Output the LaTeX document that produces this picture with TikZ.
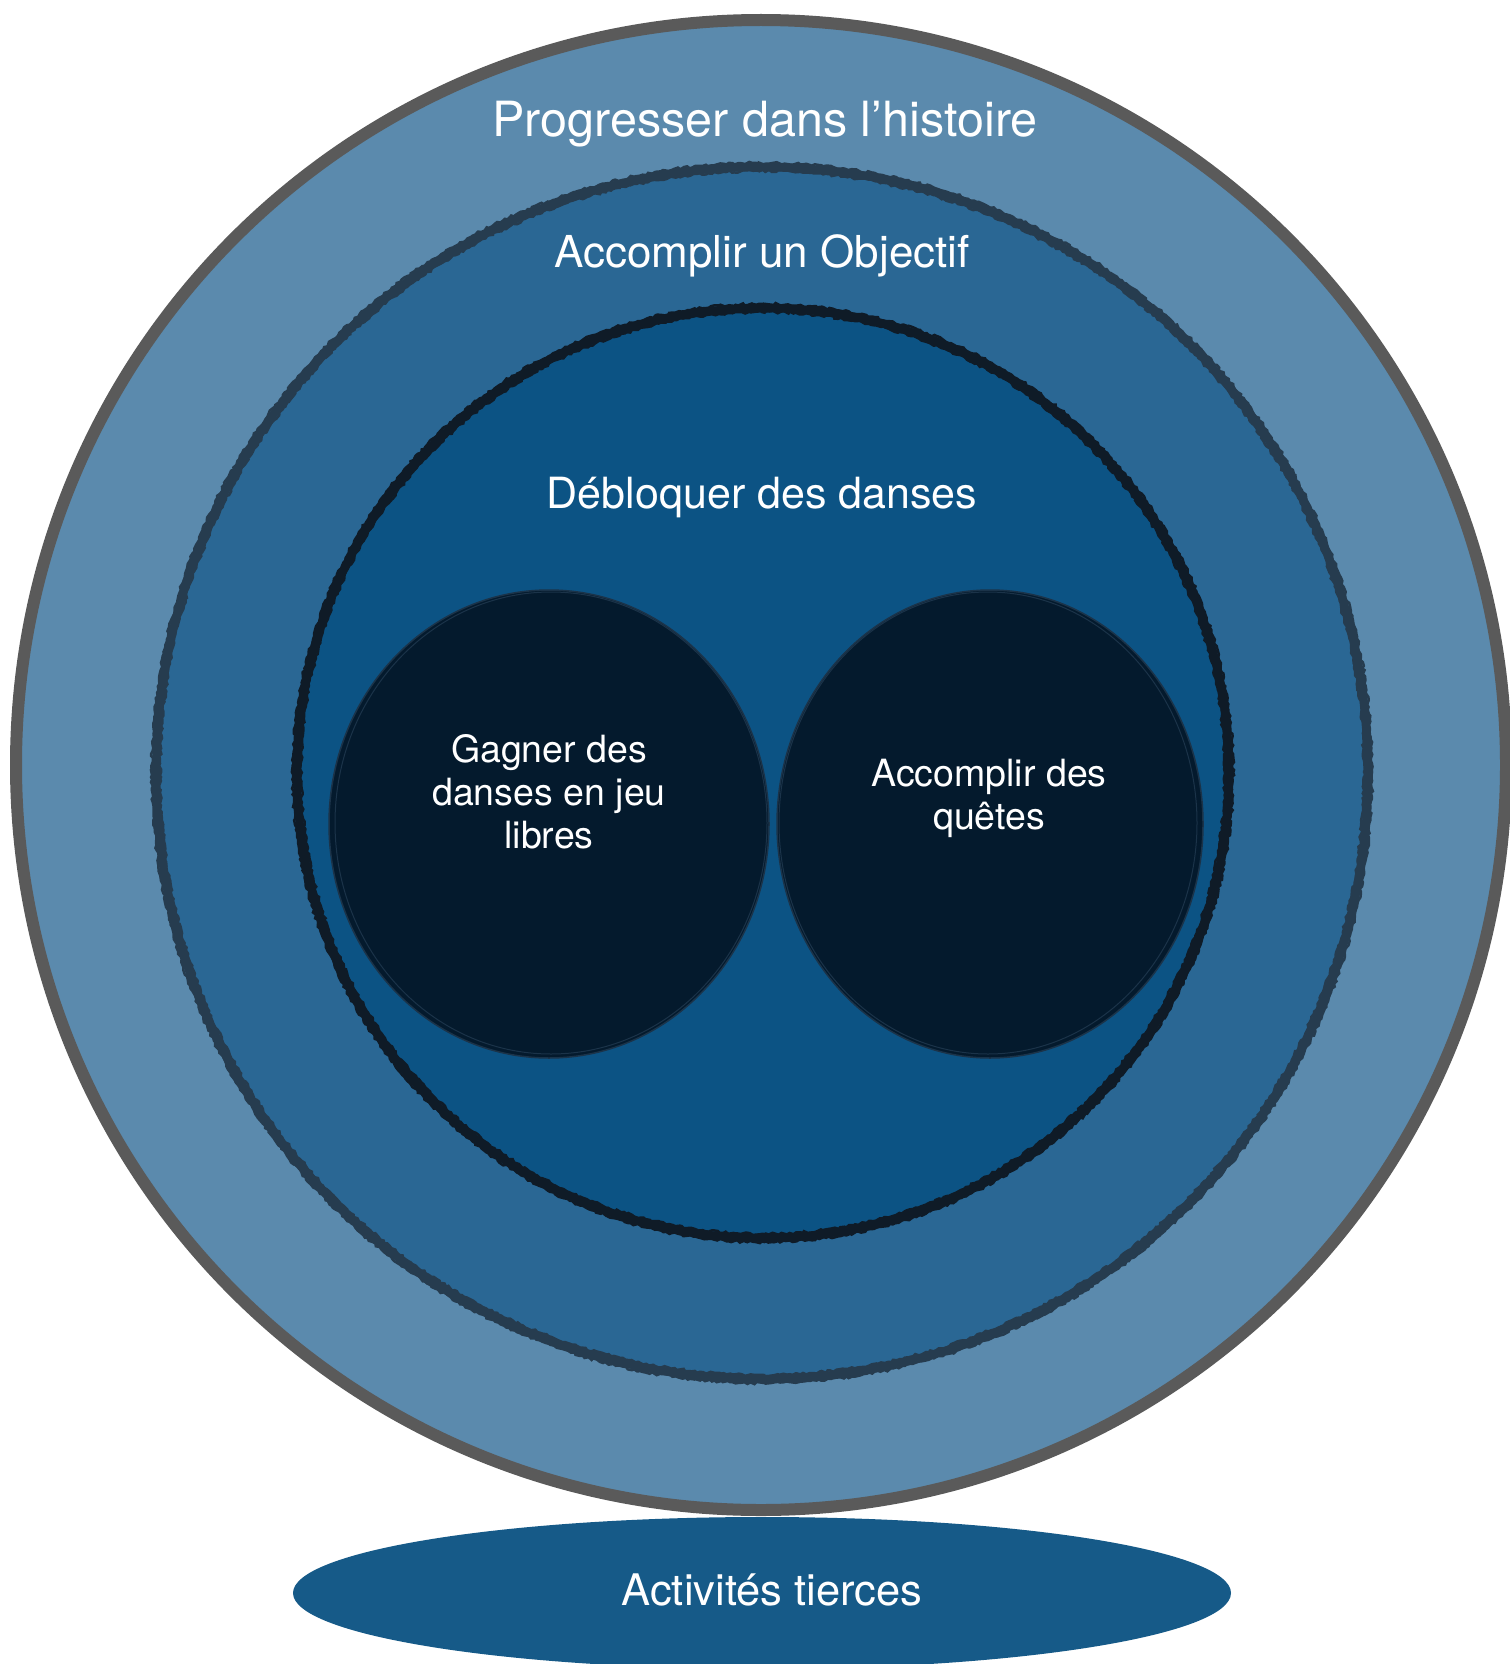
\documentclass[tikz,border=0pt]{standalone}
\usepackage{fontspec}
\setmainfont{TeX Gyre Heros}
\usetikzlibrary{decorations.pathmorphing}
\definecolor{ringA}{HTML}{5B8AAD}
\definecolor{ringB}{HTML}{2A6794}
\definecolor{ringC}{HTML}{0C5384}
\definecolor{coreD}{HTML}{041A2D}
\definecolor{ovalE}{HTML}{165A88}
\definecolor{outerS}{HTML}{5A5A5A}
\definecolor{sketchB}{HTML}{263C4F}
\definecolor{sketchC}{HTML}{0F1B27}
\definecolor{sketchD}{HTML}{1B3349}
\tikzset{
  lbl/.style={text=white, align=center, inner sep=0pt},
  rough/.style={decorate, decoration={random steps, segment length=3pt, amplitude=1.2pt}},
}
\pgfmathsetseed{7}
\begin{document}
\begin{tikzpicture}[x=1pt,y=-1pt]
\useasboundingbox (0,0) rectangle (1509,1664);
% bottom oval
\fill[ovalE] (762,1593) ellipse [x radius=469pt, y radius=76pt];
\node[lbl, font=\fontsize{43.5}{52}\selectfont] (act) at (772,1590) {Activités tierces};
% outer circle
\draw[fill=ringA, draw=outerS, line width=12pt] (761,765) ellipse [x radius=745pt, y radius=745pt];
% second ring
\fill[ringB] (762,773) ellipse [x radius=606pt, y radius=606pt];
\draw[sketchB, line width=8pt] (762,773) ellipse [x radius=606pt, y radius=606pt];
\draw[sketchB, rough, line width=2.5pt] (762,773) ellipse [x radius=610pt, y radius=610pt];
\draw[sketchB, rough, line width=2.5pt] (762,773) ellipse [x radius=602pt, y radius=602pt];
% third ring
\fill[ringC] (763,773) ellipse [x radius=466pt, y radius=465pt];
\draw[sketchC, line width=8pt] (763,773) ellipse [x radius=466pt, y radius=465pt];
\draw[sketchC, rough, line width=2.5pt] (763,773) ellipse [x radius=470pt, y radius=469pt];
\draw[sketchC, rough, line width=2.5pt] (763,773) ellipse [x radius=462pt, y radius=461pt];
% inner circles
\fill[coreD] (549,824) ellipse [x radius=220pt, y radius=234pt];
\draw[sketchD, line width=1.5pt] (549,824) ellipse [x radius=220pt, y radius=234pt];
\draw[sketchD, line width=1pt] (551,823) ellipse [x radius=216pt, y radius=231pt];
\fill[coreD] (990,824) ellipse [x radius=213pt, y radius=234pt];
\draw[sketchD, line width=1.5pt] (990,824) ellipse [x radius=213pt, y radius=234pt];
\draw[sketchD, line width=1pt] (988,823) ellipse [x radius=209pt, y radius=231pt];
% labels
\node[lbl, font=\fontsize{48.5}{58}\selectfont] (prog) at (765,124) {Progresser dans l’histoire};
\node[lbl, font=\fontsize{44}{53}\selectfont] (obj) at (762,256) {Accomplir un Objectif};
\node[lbl, font=\fontsize{43}{52}\selectfont] (deb) at (762,498) {Débloquer des danses};
\node[lbl, font=\fontsize{37.5}{43}\selectfont] (gag) at (549,792) {Gagner des\\danses en jeu\\libres};
\node[lbl, font=\fontsize{37.5}{43}\selectfont] (que) at (989,798) {Accomplir des\\quêtes};
\end{tikzpicture}
\end{document}
